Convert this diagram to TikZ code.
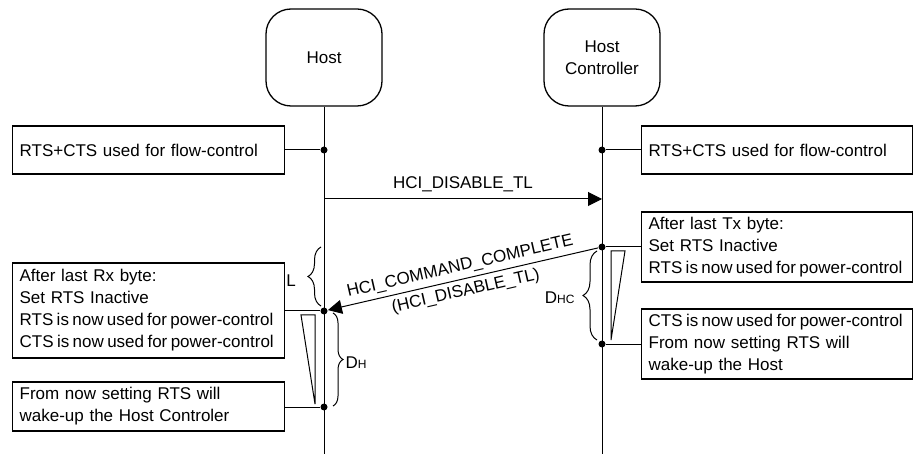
\documentclass[tikz,border=0pt]{standalone}
\usepackage{fontspec}
\setmainfont{Liberation Sans}
\usetikzlibrary{arrows.meta,decorations.pathreplacing}
\newcommand{\nl}[1]{\mbox{#1}}
\newcommand{\sq}[1]{\mbox{\spaceskip=3.4pt #1}}
\begin{document}
\begin{tikzpicture}[x=1pt,y=-1pt,
  font=\fontsize{17}{22}\selectfont, line width=1pt,
  actor/.style={draw, line width=1.3pt, rounded corners=25pt, minimum width=116pt, minimum height=97pt, align=center, inner sep=0pt},
  note/.style={draw, line width=1.3pt, text width=258pt, inner xsep=7pt, inner ysep=0pt, align=left, anchor=west},
  rnote/.style={note, text width=257pt},
  dot/.style={circle, fill, inner sep=0pt, minimum size=7pt},
  brc/.style={decorate, decoration={brace, amplitude=#1}},
  msg/.style={-{Triangle[length=14pt,width=14pt]}}
]
\useasboundingbox (0,0) rectangle (913,454);

% actors
\node[actor] (host) at (324,57.5) {Host};
\node[actor] (hc) at (602,57.5) {Host\\Controller};
\coordinate (hEnd) at (324,454);
\coordinate (cEnd) at (602,454);
\draw (host.south) -- (hEnd);
\draw (hc.south) -- (cEnd);

% dots
\node[dot] (h1) at (324,150) {};
\node[dot] (c1) at (602,150) {};
\node[dot] (c2) at (602,247) {};
\node[dot] (c3) at (602,344) {};
\node[dot] (h2) at (324,311) {};
\node[dot] (h3) at (324,407) {};

% notes
\node[note, minimum height=48pt] (n1) at (12,150) {\nl{RTS+CTS used for flow-control}};
\node[rnote, minimum height=48pt] (m1) at (641,150) {\nl{RTS+CTS used for flow-control}};
\node[rnote, minimum height=70pt] (m2) at (641,247) {\nl{After last Tx byte:}\\\nl{Set RTS Inactive}\\\sq{RTS is now used for power-control}};
\node[rnote, minimum height=70pt] (m3) at (641,344) {\sq{CTS is now used for power-control}\\\nl{From now setting RTS will}\\\nl{wake-up the Host}};
\node[note, minimum height=95pt] (n2) at (12,310.5) {\nl{After last Rx byte:}\\\nl{Set RTS Inactive}\\\sq{RTS is now used for power-control}\\\sq{CTS is now used for power-control}};
\node[note, minimum height=49pt] (n3) at (12,406.5) {\nl{From now setting RTS will}\\\nl{wake-up the Host Controler}};

% note connectors
\draw (h1) -- (h1 -| n1.east);
\draw (c1) -- (c1 -| m1.west);
\draw (c2) -- (c2 -| m2.west);
\draw (c3) -- (c3 -| m3.west);
\draw (h2) -- (h2 -| n2.east);
\draw (h3) -- (h3 -| n3.east);

% messages
\coordinate (hs) at (324,199);
\coordinate (cs) at (602,199);
\draw[msg] (hs) -- (cs) node[midway, above=3pt] {HCI\_DISABLE\_TL};
\draw[msg] (c2) -- (h2)
  node[midway, sloped, above=1pt] {HCI\_COMMAND\_COMPLETE}
  node[midway, sloped, below=1pt] {(HCI\_DISABLE\_TL)};

% triangles
\draw (301,315) -- (315,315) -- (315,404) -- cycle;
\draw (611,251) -- (625,251) -- (611,340) -- cycle;

% braces
\draw[brc=13pt] (321,306) -- (321,247);
\node (lL) at (291,281) {L};
\draw[brc=10pt] (333,313) -- (333,406);
\node[anchor=west, inner sep=0pt] (lDH) at (345,363) {D{\fontsize{12}{12}\selectfont H}};
\draw[brc=14pt] (597,340) -- (597,251);
\node[anchor=east, inner sep=0pt] (lDHC) at (575,298) {D{\fontsize{12}{12}\selectfont HC}};
\end{tikzpicture}
\end{document}
